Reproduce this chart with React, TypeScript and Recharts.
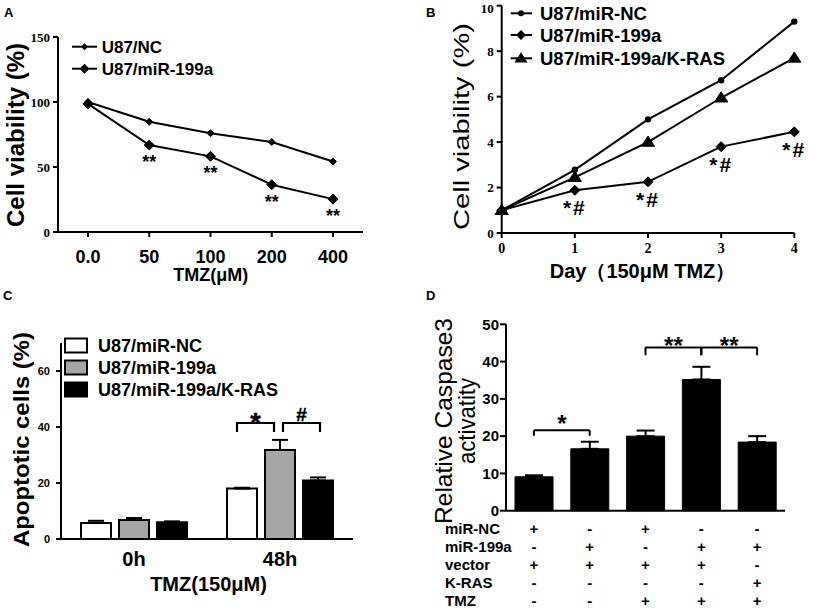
import React from 'react';
import {
  LineChart, Line, BarChart, Bar, XAxis, YAxis, ErrorBar, ReferenceLine, Legend, LabelList,
} from 'recharts';

const SANS = '"Liberation Sans", Arial, Helvetica, sans-serif';
const SERIF = '"Liberation Serif", "Times New Roman", serif';
const INK = '#000000';
const GRAY = '#a5a5a7';

// ---------- Panel A ----------
const doseLabels = ['0.0', '50', '100', '200', '400'];
const viabilityNC = [100, 84.8, 76, 69.2, 54.2];
const viabilityMiR = [98.5, 66.9, 58.2, 36.4, 25.3];
const sigA = ['', '**', '**', '**', '**'];
const namesA = ['U87/NC', 'U87/miR-199a'];
const ticksA = [0, 50, 100, 150];

// ---------- Panel B ----------
const days = [0, 1, 2, 3, 4];
const growthNC = [1, 2.78, 5.0, 6.72, 9.3];
const growthMiR = [1, 1.88, 2.25, 3.8, 4.45];
const growthKRAS = [1, 2.45, 4.0, 5.95, 7.7];
const sigB = ['', '*#', '*#', '*#', '*#'];
const namesB = ['U87/miR-NC', 'U87/miR-199a', 'U87/miR-199a/K-RAS'];
const ticksBY = [0, 2, 4, 6, 8, 10];

// ---------- Panel C ----------
const timePoints = ['0h', '48h'];
const apoptosisNC = [5.7, 18];
const apoptosisMiR = [6.8, 31.8];
const apoptosisKRAS = [6.0, 20.9];
const apoptosisNCErr = [0.8, 0.3];
const apoptosisMiRErr = [0.7, 3.6];
const apoptosisKRASErr = [0.3, 1.1];
const ticksC = [0, 20, 40, 60];
// significance brackets of panel C, drawn around the miR-199a bar of the 48h group
const bracketsC = [
  { dxFrom: -43.3, dxTo: -6, top: 41.5, foot: 38.1, mark: '*', size: 27, markDy: 8.5 },
  { dxFrom: 2.7, dxTo: 40, top: 41.5, foot: 38.1, mark: '#', size: 19, markDy: -2 },
];

// ---------- Panel D ----------
const groupsD = ['g1', 'g2', 'g3', 'g4', 'g5'];
const caspase = [9.1, 16.6, 20.0, 35.2, 18.4];
const caspaseErr = [0.4, 1.9, 1.5, 3.4, 1.6];
const rowLabelsD = ['miR-NC', 'miR-199a', 'vector', 'K-RAS', 'TMZ'];
const rowMiRNC = ['+', '-', '+', '-', '-'];
const rowMiR199a = ['-', '+', '-', '+', '+'];
const rowVector = ['+', '+', '+', '+', '-'];
const rowKRAS = ['-', '-', '-', '-', '+'];
const rowTMZ = ['-', '-', '+', '+', '+'];
const ticksD = [0, 10, 20, 30, 40, 50];
const bracketsD = [
  { from: 'g1', to: 'g2', top: 21.6, foot: 20.1, mark: '*', size: 24, offset: -2 },
  { from: 'g3', to: 'g4', top: 43.8, foot: 41.7, mark: '**', size: 24, offset: -7 },
  { from: 'g4', to: 'g5', top: 43.8, foot: 41.7, mark: '**', size: 24, offset: -7 },
];

// ---------- tables built from the arrays ----------
const dataA = doseLabels.map((d, i) => ({ dose: d, nc: viabilityNC[i], mir: viabilityMiR[i], sig: sigA[i] }));
const dataB = days.map((d, i) => ({ day: d, nc: growthNC[i], mir: growthMiR[i], kras: growthKRAS[i], sig: sigB[i] }));
const dataC = timePoints.map((t, i) => ({
  t, nc: apoptosisNC[i], mir: apoptosisMiR[i], kras: apoptosisKRAS[i],
  ncErr: [0, apoptosisNCErr[i]], mirErr: [0, apoptosisMiRErr[i]], krasErr: [0, apoptosisKRASErr[i]],
}));
const dataD = groupsD.map((g, i) => ({ g, v: caspase[i], err: [0, caspaseErr[i]] }));
const tableRows = [rowMiRNC, rowMiR199a, rowVector, rowKRAS, rowTMZ];

// ---------- shapes ----------
const diamondPts = (cx: number, cy: number, r: number) =>
  `${cx},${cy - r} ${cx + r},${cy} ${cx},${cy + r} ${cx - r},${cy}`;
const trianglePts = (cx: number, cy: number, r: number) =>
  `${cx},${cy - r} ${cx + r * 1.1},${cy + r * 0.7} ${cx - r * 1.1},${cy + r * 0.7}`;

const diamondDot = (r: number) => (p: any) =>
  p.cx == null ? <g key={`e${p.index}`} /> :
    <polygon key={`d${p.index}`} points={diamondPts(p.cx, p.cy, r)} fill={INK} stroke={INK} strokeWidth={1} />;
const circleDot = (r: number) => (p: any) =>
  p.cx == null ? <g key={`e${p.index}`} /> :
    <circle key={`c${p.index}`} cx={p.cx} cy={p.cy} r={r} fill={INK} />;
const triangleDot = (r: number) => (p: any) =>
  p.cx == null ? <g key={`e${p.index}`} /> :
    <polygon key={`t${p.index}`} points={trianglePts(p.cx, p.cy, r)} fill={INK} stroke={INK} strokeWidth={1} />;

// ---------- text helpers ----------
const rotTitle = (lines: { text: string; x: number; len: number }[], cy: number, size: number, weight: string) => () => (
  <g>
    {lines.map((l, i) => (
      <text key={i} x={l.x} y={cy} transform={`rotate(-90 ${l.x} ${cy})`} textAnchor="middle"
        fontSize={size} fontWeight={weight} fontFamily={SANS} fill={INK}
        textLength={l.len} lengthAdjust="spacingAndGlyphs">{l.text}</text>
    ))}
  </g>
);
const hTitle = (text: string, x: number, y: number, size: number) => () => (
  <text x={x} y={y} textAnchor="middle" fontSize={size} fontWeight="bold" fontFamily={SANS} fill={INK}>{text}</text>
);
const sigLabel = (dy: number, size: number) => (p: any) => {
  if (!p.value) return <g />;
  return (
    <text x={p.x} y={p.y + dy} textAnchor="middle" fontSize={size} fontWeight="bold" fontFamily={SANS}
      fill={INK} letterSpacing={size > 19 ? 2 : 0}>{p.value}</text>
  );
};

// brackets of panel C, placed from the geometry of the 48h miR-199a bar
const BracketsC = (p: any) => {
  if (p.index !== 1) return <g />;
  const vb = p.viewBox && p.viewBox.width != null ? p.viewBox : p;
  const value = Number(p.value);
  const base = vb.y + vb.height;
  const k = vb.height / value;
  const cx = vb.x + vb.width / 2;
  return (
    <g>
      {bracketsC.map((b, i) => {
        const yt = Math.round(base - b.top * k);
        const yf = Math.round(base - b.foot * k);
        const x1 = Math.round(cx + b.dxFrom);
        const x2 = Math.round(cx + b.dxTo);
        return (
          <g key={i}>
            <path d={`M${x1},${yf}V${yt}H${x2}V${yf}`} stroke={INK} strokeWidth={2.2} fill="none" />
            <text x={(x1 + x2) / 2} y={yt + b.markDy} textAnchor="middle" fontSize={b.size} fontWeight="bold"
              fontFamily={SANS} fill={INK} stroke={INK} strokeWidth={0.4}>{b.mark}</text>
          </g>
        );
      })}
    </g>
  );
};

const axisLine = { stroke: INK, strokeWidth: 2 };
const tickLine = { stroke: INK, strokeWidth: 2 };
const serifTick = { fill: INK, fontSize: 13, fontWeight: 'bold', fontFamily: SERIF };

// ---------- legends ----------
const LegendA = () => (
  <svg width={170} height={46} style={{ overflow: 'visible' }}>
    {namesA.map((n, i) => {
      const y = 12.7 + i * 22;
      return (
        <g key={n}>
          <line x1={12} x2={37} y1={y} y2={y} stroke={INK} strokeWidth={2} />
          <polygon points={diamondPts(24.5, y, i === 0 ? 3.5 : 5)} fill={INK} />
          <text x={41.7} y={y + 6.1} fontSize={17} fontWeight="bold" fontFamily={SANS} fill={INK}>{n}</text>
        </g>
      );
    })}
  </svg>
);
const LegendB = () => (
  <svg width={300} height={70} style={{ overflow: 'visible' }}>
    {namesB.map((n, i) => {
      const y = [13.3, 35, 58.3][i];
      return (
        <g key={n}>
          <line x1={5.7} x2={27} y1={y} y2={y} stroke={INK} strokeWidth={2} />
          {i === 0 && <circle cx={16} cy={y} r={3} fill={INK} />}
          {i === 1 && <polygon points={diamondPts(16, y, 5)} fill={INK} />}
          {i === 2 && <polygon points={trianglePts(16, y, 6)} fill={INK} />}
          <text x={35} y={y + 6.6} fontSize={18.5} fontWeight="bold" fontFamily={SANS} fill={INK}>{n}</text>
        </g>
      );
    })}
  </svg>
);
const LegendC = () => (
  <svg width={260} height={75} style={{ overflow: 'visible' }}>
    {namesB.map((n, i) => {
      const y = [15.5, 37.5, 59.5][i];
      return (
        <g key={n}>
          <rect x={6} y={y - 7} width={22} height={14} fill={['#ffffff', GRAY, INK][i]} stroke={INK} strokeWidth={2} />
          <text x={39} y={y + 6} fontSize={18} fontWeight="bold" fontFamily={SANS} fill={INK}>{n}</text>
        </g>
      );
    })}
  </svg>
);

// ---------- table tick for panel D ----------
const TableTick = (props: any) => {
  const { x, y, payload } = props;
  const i = groupsD.indexOf(payload.value);
  return (
    <g>
      {tableRows.map((row, r) => (
        <text key={r} x={x} y={y + 23.6 + r * 18} textAnchor="middle" fontSize={15} fontWeight="bold"
          fontFamily={SANS} fill={INK}>{row[i]}</text>
      ))}
      {i === 0 && rowLabelsD.map((lab, r) => (
        <text key={`l${r}`} x={35} y={y + 23.6 + r * 18} textAnchor="start" fontSize={15} fontWeight="bold"
          fontFamily={SANS} fill={INK}>{lab}</text>
      ))}
    </g>
  );
};

const bracketLines = (list: any[]) =>
  list.flatMap((b, i) => [
    <ReferenceLine key={`h${i}`} segment={[{ x: b.from, y: b.top }, { x: b.to, y: b.top }]}
      stroke={INK} strokeWidth={2} ifOverflow="visible"
      label={{ value: b.mark, position: 'top', offset: b.offset, fontSize: b.size, fontWeight: 'bold', fill: INK, fontFamily: SANS }} />,
    <ReferenceLine key={`l${i}`} segment={[{ x: b.from, y: b.top }, { x: b.from, y: b.foot }]}
      stroke={INK} strokeWidth={2} ifOverflow="visible" />,
    <ReferenceLine key={`r${i}`} segment={[{ x: b.to, y: b.top }, { x: b.to, y: b.foot }]}
      stroke={INK} strokeWidth={2} ifOverflow="visible" />,
  ]);

const legendProps = { layout: 'vertical' as const, align: 'center' as const, verticalAlign: 'middle' as const };

export default function App() {
  return (
    <div style={{ position: 'absolute', left: 0, top: 0, width: 829, height: 613, background: '#fff', fontFamily: SANS, overflow: 'hidden' }}>
      {/* Panel A */}
      <div style={{ position: 'absolute', left: 0, top: 0 }}>
        <LineChart width={410} height={295} data={dataA} margin={{ top: 37, right: 47, bottom: 0, left: 0 }}>
          <XAxis dataKey="dose" interval={0} padding={{ left: 30, right: 30 }} height={63}
            axisLine={axisLine} tickLine={tickLine} tickSize={5} tickMargin={13}
            tick={{ fill: INK, fontSize: 18, fontWeight: 'bold', fontFamily: SANS }}
            label={hTitle('TMZ(μM)', 210.8, 281, 18)} />
          <YAxis domain={[0, 150]} ticks={ticksA} width={58} axisLine={axisLine} tickLine={tickLine}
            tickSize={5} tickMargin={3} tick={serifTick}
            label={rotTitle([{ text: 'Cell viability (%)', x: 23.5, len: 184 }], 135, 23, 'bold')} />
          <Legend {...legendProps} content={() => <LegendA />} wrapperStyle={{ left: 60, top: 34, width: 170, height: 46 }} />
          <Line dataKey="nc" name={namesA[0]} stroke={INK} strokeWidth={2} dot={diamondDot(3.5)} activeDot={false} isAnimationActive={false} />
          <Line dataKey="mir" name={namesA[1]} stroke={INK} strokeWidth={2} dot={diamondDot(5)} activeDot={false} isAnimationActive={false}>
            <LabelList dataKey="sig" content={sigLabel(23, 18)} />
          </Line>
        </LineChart>
      </div>

      {/* Panel B */}
      <div style={{ position: 'absolute', left: 410, top: 0 }}>
        <LineChart width={419} height={290} data={dataB} margin={{ top: 5.7, right: 34.7, bottom: 0, left: 0 }}>
          <XAxis dataKey="day" type="number" domain={[0, 4]} ticks={days} height={57}
            axisLine={axisLine} tickLine={tickLine} tickSize={5} tickMargin={5}
            tick={{ ...serifTick, fontSize: 14 }}
            label={hTitle('Day（150μM TMZ）', 232.5, 278, 20)} />
          <YAxis domain={[0, 10]} ticks={ticksBY} width={91.7} axisLine={axisLine} tickLine={tickLine}
            tickSize={5} tickMargin={3} tick={serifTick}
            label={rotTitle([{ text: 'Cell viability (%)', x: 58.5, len: 207 }], 126.5, 22, 'normal')} />
          <Legend {...legendProps} content={() => <LegendB />} wrapperStyle={{ left: 95, top: 0, width: 300, height: 70 }} />
          <Line dataKey="nc" name={namesB[0]} stroke={INK} strokeWidth={2} dot={circleDot(3.2)} activeDot={false} isAnimationActive={false} />
          <Line dataKey="mir" name={namesB[1]} stroke={INK} strokeWidth={2} dot={diamondDot(5)} activeDot={false} isAnimationActive={false}>
            <LabelList dataKey="sig" content={sigLabel(25, 21)} />
          </Line>
          <Line dataKey="kras" name={namesB[2]} stroke={INK} strokeWidth={2} dot={triangleDot(6)} activeDot={false} isAnimationActive={false} />
        </LineChart>
      </div>

      {/* Panel C */}
      <div style={{ position: 'absolute', left: 0, top: 290 }}>
        <BarChart width={410} height={323} data={dataC} margin={{ top: 53, right: 57, bottom: 0, left: 0 }}
          barSize={30} barGap={8}>
          <XAxis dataKey="t" height={74} axisLine={axisLine} tickLine={false} tickSize={0} tickMargin={13}
            tick={{ fill: INK, fontSize: 20, fontWeight: 'bold', fontFamily: SANS }}
            label={hTitle('TMZ(150μM)', 208.5, 301, 20)} />
          <YAxis domain={[0, 70]} ticks={ticksC} width={61} axisLine={axisLine} tickLine={tickLine}
            tickSize={5} tickMargin={6} tick={{ fill: INK, fontSize: 11, fontWeight: 'bold', fontFamily: SANS }}
            label={rotTitle([{ text: 'Apoptotic cells (%)', x: 28.5, len: 215 }], 149.5, 22, 'bold')} />
          <Legend {...legendProps} content={() => <LegendC />} wrapperStyle={{ left: 59, top: 40, width: 260, height: 75 }} />
          <Bar dataKey="nc" name={namesB[0]} fill="#ffffff" stroke={INK} strokeWidth={2} isAnimationActive={false}>
            <ErrorBar dataKey="ncErr" direction="y" width={8} stroke={INK} strokeWidth={2} />
          </Bar>
          <Bar dataKey="mir" name={namesB[1]} fill={GRAY} stroke={INK} strokeWidth={2} isAnimationActive={false}>
            <ErrorBar dataKey="mirErr" direction="y" width={8} stroke={INK} strokeWidth={2} />
            <LabelList dataKey="mir" content={(p: any) => <BracketsC {...p} />} />
          </Bar>
          <Bar dataKey="kras" name={namesB[2]} fill={INK} stroke={INK} strokeWidth={2} isAnimationActive={false}>
            <ErrorBar dataKey="krasErr" direction="y" width={8} stroke={INK} strokeWidth={2} />
          </Bar>
        </BarChart>
      </div>

      {/* Panel D */}
      <div style={{ position: 'absolute', left: 410, top: 290 }}>
        <BarChart width={419} height={323} data={dataD} margin={{ top: 34.3, right: 44, bottom: 0, left: 0 }} barSize={38}>
          <XAxis dataKey="g" interval={0} height={102.3} axisLine={axisLine} tickLine={false} tickSize={0} tickMargin={0}
            tick={(p: any) => <TableTick {...p} />} />
          <YAxis domain={[0, 50]} ticks={ticksD} width={96} axisLine={axisLine} tickLine={tickLine}
            tickSize={6} tickMargin={1} tick={{ fill: INK, fontSize: 15, fontWeight: 'bold', fontFamily: SANS }}
            label={rotTitle([
              { text: 'Relative Caspase3', x: 42.3, len: 206 },
              { text: 'activatity', x: 65, len: 86 },
            ], 131, 24, 'normal')} />
          <Bar dataKey="v" fill={INK} stroke={INK} strokeWidth={1} isAnimationActive={false}>
            <ErrorBar dataKey="err" direction="y" width={9} stroke={INK} strokeWidth={2} />
          </Bar>
          {bracketLines(bracketsD)}
        </BarChart>
      </div>

      {/* panel letters */}
      <svg width={829} height={613} style={{ position: 'absolute', left: 0, top: 0, pointerEvents: 'none' }}>
        <text x={4} y={16.7} fontSize={13} fontWeight="bold" fontFamily={SANS} fill={INK}>A</text>
        <text x={426} y={16.7} fontSize={13} fontWeight="bold" fontFamily={SANS} fill={INK}>B</text>
        <text x={3} y={300} fontSize={13} fontWeight="bold" fontFamily={SANS} fill={INK}>C</text>
        <text x={426} y={300} fontSize={13} fontWeight="bold" fontFamily={SANS} fill={INK}>D</text>
      </svg>
    </div>
  );
}
